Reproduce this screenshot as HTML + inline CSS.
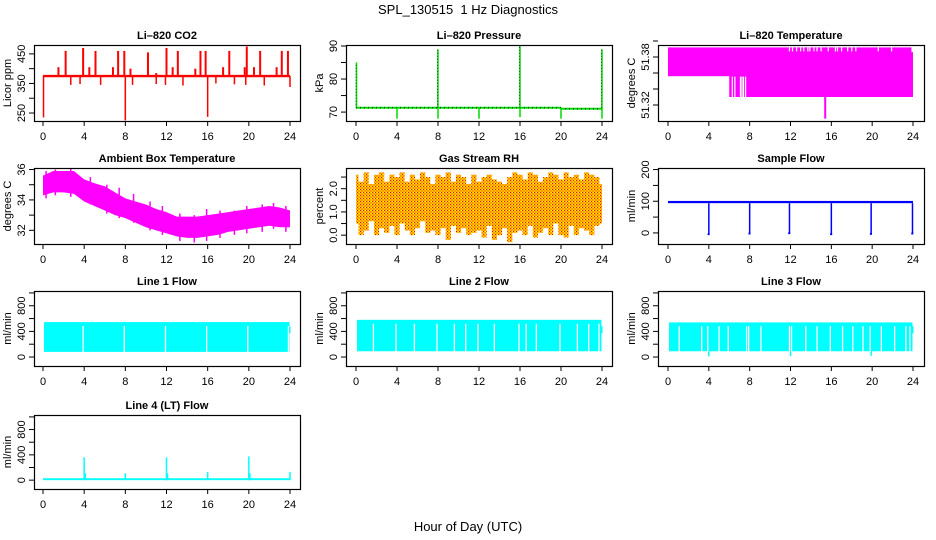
<!DOCTYPE html>
<html><head><meta charset="utf-8">
<style>
html,body{margin:0;padding:0;background:#fff;}
svg{display:block;font-family:"Liberation Sans",sans-serif;}
</style></head>
<body>
<svg id="chart" width="936" height="540" viewBox="0 0 936 540" xmlns="http://www.w3.org/2000/svg">
<text x="468" y="14" font-size="13" text-anchor="middle" style="white-space:pre" xml:space="preserve">SPL_130515  1 Hz Diagnostics</text>
<text x="468" y="531" font-size="13" text-anchor="middle">Hour of Day (UTC)</text>
<defs>
<pattern id="rhpat" width="3" height="3" patternUnits="userSpaceOnUse">
<rect width="3" height="3" fill="#ffc000"/>
<rect x="0" y="0" width="1" height="1" fill="#ff0000"/>
<rect x="1.5" y="1.5" width="1" height="1" fill="#ff3000"/>
<rect x="2" y="0" width="1" height="1" fill="#ffff00"/>
</pattern>
</defs>
</svg>
<script>
// ---------------- data ----------------
const hourTicks = [0,4,8,12,16,20,24];
// CO2
const co2Base = 375;
const co2UpTimes = [2.2,3.9,5.1,7.3,7.9,10.2,12.0,13.1,15.3,15.8,18.1,19.8,21.1,23.2,23.8,1.5,4.5,6.8,8.5,12.6,14.8,17.5,19.6,20.5,22.7,11.0];
const co2UpVals  = [460,470,460,460,460,455,470,460,460,460,460,475,460,460,460,405,405,405,400,405,400,405,405,405,405,385];
const co2DownTimes = [2.7,3.6,5.6,8.7,11.0,11.9,13.6,16.8,18.6,19.7,21.5,24.0,0.05,8.0,16.0];
const co2DownVals  = [345,348,345,345,348,345,343,350,347,345,343,338,235,225,237];
// Pressure
const presBaseTimes = [0,20,24];
const presBaseVals = [71.3,71.0,71.0];
const presUpTimes = [0.05,8.0,16.0,24.0];
const presUpVals  = [85,89,90,89];
const presDownTimes = [4.0,8.0,12.0,16.0,20.0,24.0];
const presDownVals  = [68,68,68,68.5,68,68];
// Li-820 temperature: rectangles [start, end, low, high]
const tempBlocks = [[0,11.7,51.356,51.392],[11.7,23.85,51.37,51.392],[6.0,24.0,51.33,51.386]];
const tempUpperGaps = [11.9,12.2,12.6,13.0,13.3,13.7,13.9,14.3,14.6,15.0,15.7,16.4,16.6,17.0,17.6,18.0,18.4,20.6,21.9];
const tempLowerGaps = [6.3,6.55,7.1,7.25,7.4,7.6];
const tempSpikeTime = 15.4, tempSpikeVal = 51.303;
// Ambient box temperature (hourly envelope)
const ambHours = [0,1,2,3,4,5,6,7,8,9,10,11,12,13,14,15,16,17,18,19,20,21,22,23,24];
const ambUpper = [35.6,35.9,35.9,35.9,35.35,35.1,34.9,34.5,34.1,33.9,33.7,33.4,33.2,32.9,32.9,32.9,33.0,33.1,33.2,33.3,33.4,33.5,33.6,33.5,33.3];
const ambLower = [34.3,34.5,34.5,34.4,33.9,33.6,33.3,33.0,32.8,32.5,32.2,32.0,31.8,31.6,31.5,31.5,31.6,31.7,31.9,32.0,32.1,32.2,32.3,32.2,32.2];
const ambSpikeTimes = [0.3,1.2,2.7,4.6,6.2,7.4,8.8,10.4,11.6,13.3,14.7,15.9,17.2,18.6,19.8,21.3,22.4,23.6];
const ambSpikeHi = [35.9,36.0,36.05,35.5,35.0,34.8,34.4,33.9,33.6,33.1,33.0,33.4,33.3,33.3,33.6,33.7,33.8,33.6];
const ambSpikeLo = [34.1,34.3,34.2,33.7,33.1,32.8,32.5,32.0,31.7,31.3,31.2,31.3,31.5,31.7,31.8,31.9,32.1,31.9];
// Gas stream RH (half-hourly envelope)
const rhHigh = [2.6,2.3,2.7,2.2,2.6,2.7,2.3,2.6,2.5,2.7,2.3,2.6,2.4,2.7,2.5,2.2,2.6,2.5,2.7,2.3,2.6,2.5,2.2,2.6,2.3,2.5,2.6,2.4,2.3,2.2,2.5,2.7,2.6,2.4,2.7,2.6,2.3,2.5,2.7,2.6,2.4,2.7,2.5,2.6,2.4,2.7,2.6,2.5,2.2];
const rhLow  = [0.5,0.0,0.2,0.6,0.0,0.3,0.1,0.4,0.0,0.5,0.2,0.0,0.3,0.6,0.1,0.2,0.0,0.3,-0.2,0.4,0.1,0.3,0.0,0.1,0.2,-0.1,0.4,-0.2,0.0,0.3,-0.3,0.1,0.2,0.0,0.4,-0.1,0.1,0.3,0.0,0.5,0.0,-0.1,0.4,0.0,0.3,0.2,0.0,0.4,0.5];
// Sample flow
const sfLow = 94, sfHigh = 101;
const sfDipTimes = [4.0,8.0,11.9,16.0,19.9,23.95];
const sfDipVals = [-5,-3,-2,-5,-4,-3];
// Line flows
const l1Lo = 80, l1Hi = 545;
const l1Gaps = [3.9,7.9,11.9,15.9,19.9,23.85];
const l2Lo = 90, l2Hi = 580;
const l2Gaps = [1.7,3.9,5.7,7.9,9.6,10.7,11.9,13.5,15.9,16.6,17.6,19.9,21.6,22.7,23.7];
const l3Lo = 90, l3Hi = 540;
const l3Gaps = [1.1,3.3,3.9,5.0,5.9,7.7,7.9,9.1,11.9,12.1,13.5,14.6,15.9,17.1,18.1,19.1,19.8,20.9,22.2,23.3,23.7];
const l3DipTimes = [4.0,12.0,19.9];
const l3DipVals = [10,15,20];
const l4Lo = 0, l4Hi = 30;
const l4SpikeTimes = [4.0,4.1,8.0,12.0,12.1,16.0,20.0,20.1,24.0];
const l4SpikeVals = [360,110,110,360,110,130,375,110,130];

// ---------------- layout ----------------
const svg = document.getElementById('chart');
const NS = 'http://www.w3.org/2000/svg';
const cols = [{L:34,R:300,x0:43,x24:290},{L:346,R:612,x0:356,x24:602},{L:658,R:924,x0:668,x24:913}];
const rows = [{T:45,B:121},{T:168,B:244},{T:291,B:366},{T:415,B:489}];
function mk(tag, attrs, parent){const e=document.createElementNS(NS,tag);for(const k in attrs)e.setAttribute(k,attrs[k]);(parent||svg).appendChild(e);return e;}

function panel(name, c, r, ylim, yticks, ylabs, ytitle, title){
  const g = mk('g',{});
  
  
  const col = cols[c], row = rows[r];
  const sx = h => col.x0 + (col.x24-col.x0)*h/24;
  const sy = v => row.B - (v-ylim[0])/(ylim[1]-ylim[0])*(row.B-row.T);
  const plot = mk('g',{},g);
  
  
  const axes = mk('g',{},g);
  const box = mk('rect',{x:col.L+0.5,y:row.T+0.5,width:col.R-col.L,height:row.B-row.T,fill:'none',stroke:'#000','stroke-width':1.2},axes);
  
  
  const t = mk('text',{x:(col.L+col.R)/2,y:row.T-6,'font-size':11,'font-weight':'bold','text-anchor':'middle'},axes);
  t.textContent = title;
  
  
  hourTicks.forEach(h=>{
    mk('line',{x1:sx(h),x2:sx(h),y1:row.B,y2:row.B+5,stroke:'#000'},axes);
    const tl = mk('text',{x:sx(h),y:row.B+19,'font-size':11,'text-anchor':'middle'},axes);
    tl.textContent = h;
    
    
  });
  yticks.forEach(v=>{ mk('line',{x1:col.L-5,x2:col.L,y1:sy(v),y2:sy(v),stroke:'#000'},axes); });
  ylabs.forEach(l=>{
    const yy = l.pos!==undefined ? l.pos : sy(l.v);
    const tl = mk('text',{x:0,y:0,'font-size':11,'text-anchor':'middle',transform:`translate(${col.L-9},${yy}) rotate(-90)`},axes);
    tl.textContent = l.t;
    
    
  });
  const yt = mk('text',{x:0,y:0,'font-size':11,'text-anchor':'middle',transform:`translate(${col.L-23},${(row.T+row.B)/2}) rotate(-90)`},axes);
  yt.textContent = ytitle;
  
  
  return {g:plot, sx, sy, row, col};
}
function vline(p, h, a, b, color, w){ return mk('line',{x1:p.sx(h),x2:p.sx(h),y1:p.sy(a),y2:p.sy(b),stroke:color,'stroke-width':w||1.5},p.g); }
function band(p, h0, h1, lo, hi, color){ return mk('rect',{x:p.sx(h0),y:p.sy(hi),width:p.sx(h1)-p.sx(h0),height:p.sy(lo)-p.sy(hi),fill:color},p.g); }
const L = (v,t)=>({v:v,t:t===undefined?String(v):t});

// CO2
(function(){
  const p = panel('co2',0,0,[223,480],[250,300,350,400,450],[L(250),L(350),L(450)],'Licor ppm','Li\u2013820 CO2');
  const red='#ff0000';
  const b = band(p,0,24,co2Base-4,co2Base+4,red);
  
  
  co2UpTimes.forEach((h,i)=>{ const e=vline(p,h,co2Base,co2UpVals[i],red,2);
      });
  co2DownTimes.forEach((h,i)=>{ const e=vline(p,h,co2Base,co2DownVals[i],red,1.5);
      });
})();
// Pressure
(function(){
  const p = panel('pressure',1,0,[67.3,90.3],[70,75,80,85,90],[L(70),L(80),L(90)],'kPa','Li\u2013820 Pressure');
  const green='#00dd00';
  for(let i=0;i<presBaseTimes.length-1;i++){
    const y=p.sy(presBaseVals[i]);
    const e=mk('line',{x1:p.sx(presBaseTimes[i]),x2:p.sx(presBaseTimes[i+1]),y1:y,y2:y,stroke:green,'stroke-width':2},p.g);
     
    mk('line',{x1:p.sx(presBaseTimes[i]),x2:p.sx(presBaseTimes[i+1]),y1:y,y2:y,stroke:'#000','stroke-width':1,'stroke-dasharray':'1 3'},p.g);
  }
  presUpTimes.forEach((h,i)=>{ const e=vline(p,h,71.3,presUpVals[i],green,1.5);
     
    mk('line',{x1:p.sx(h)-0.5,x2:p.sx(h)-0.5,y1:p.sy(71.3),y2:p.sy(presUpVals[i]),stroke:'#000','stroke-width':0.7,'stroke-dasharray':'1 2'},p.g); });
  presDownTimes.forEach((h,i)=>{ const e=vline(p,h,71.3,presDownVals[i],green,1.5);
      });
})();
// Li-820 Temperature
(function(){
  const p = panel('li820-temp',2,0,[51.30,51.395],[51.32,51.34,51.36,51.38,51.40],[L(51.32,'51.32'),L(51.38,'51.38')],'degrees C','Li\u2013820 Temperature');
  const mag='#ff00ff';
  tempBlocks.forEach(b=>{ const e=band(p,b[0],b[1],b[2],b[3],mag);
      });
  tempUpperGaps.forEach(h=>{ const e=vline(p,h,51.387,51.395,'#fff',1.2);
      });
  tempLowerGaps.forEach(h=>{ const e=vline(p,h,51.329,51.3555,'#fff',1.2);
      });
  const s=vline(p,tempSpikeTime,51.33,tempSpikeVal,mag,2);
   
})();
// Ambient
(function(){
  const p = panel('ambient-temp',0,1,[31.1,36.1],[32,33,34,35,36],[L(32),L(34),L(36)],'degrees C','Ambient Box Temperature');
  let pts = ambHours.map((h,i)=>p.sx(h)+','+p.sy(ambUpper[i]));
  pts = pts.concat(ambHours.slice().reverse().map((h,j)=>{const i=ambHours.length-1-j;return p.sx(h)+','+p.sy(ambLower[i]);}));
  const e=mk('polygon',{points:pts.join(' '),fill:'#ff00ff'},p.g);
   
  ambSpikeTimes.forEach((h,i)=>{ const s=vline(p,h,ambSpikeLo[i],ambSpikeHi[i],'#ff00ff',1.5);
      });
})();
// RH
(function(){
  const p = panel('gas-rh',1,1,[-0.38,2.89],[0,0.5,1,1.5,2,2.5],[L(0,'0.0'),L(1,'1.0'),L(2,'2.0')],'percent','Gas Stream RH');
  const n=rhHigh.length, step=24/(n-1);
  rhHigh.forEach((hv,i)=>{
    const h0=Math.max(0,i*step-step/2), h1=Math.min(24,i*step+step/2);
    const e=band(p,h0,h1,rhLow[i],hv,'url(#rhpat)');
     
  });
  const e=band(p,0,24,0.7,2.1,'url(#rhpat)');
   
})();
// Sample flow
(function(){
  const p = panel('sample-flow',2,1,[-35,205],[0,50,100,150,200],[L(0),L(100),L(200)],'ml/min','Sample Flow');
  const blue='#0000ff';
  const b=band(p,0,24,sfLow,sfHigh,blue);
   
  sfDipTimes.forEach((h,i)=>{ const e=vline(p,h,sfLow,sfDipVals[i],blue,1.5);
     
    band(p,h-0.12,h+0.08,sfDipVals[i]-2,sfDipVals[i]+4,blue); });
})();
// Line flows
const lineYT=[0,200,400,600,800,1000], lineYL=[L(0),L(400),L(800)];
const cyan='#00ffff';
function linePanel(name,c,r,title,lo,hi,gaps,dipT,dipV){
  const p = panel(name,c,r,[-140,1030],lineYT,lineYL,'ml/min',title);
  const b=band(p,0.1,23.95,lo,hi,cyan);
   
  const tail=band(p,23.95,24.05,370,480,cyan);
   
  gaps.forEach(h=>{ const e=vline(p,h,lo-5,hi-60,'#fff',1.3);
      });
  (dipT||[]).forEach((h,i)=>{ const e=vline(p,h,lo,dipV[i],cyan,1.5);
      });
  return p;
}
linePanel('line1-flow',0,2,'Line 1 Flow',l1Lo,l1Hi,l1Gaps);
linePanel('line2-flow',1,2,'Line 2 Flow',l2Lo,l2Hi,l2Gaps);
linePanel('line3-flow',2,2,'Line 3 Flow',l3Lo,l3Hi,l3Gaps,l3DipTimes,l3DipVals);
(function(){
  const p = panel('line4-flow',0,3,[-140,1030],lineYT,lineYL,'ml/min','Line 4 (LT) Flow');
  const b=band(p,0,24,l4Lo,l4Hi,cyan);
   
  l4SpikeTimes.forEach((h,i)=>{ const e=vline(p,h,l4Lo,l4SpikeVals[i],cyan,1.5);
      });
})();
</script>
</body></html>
